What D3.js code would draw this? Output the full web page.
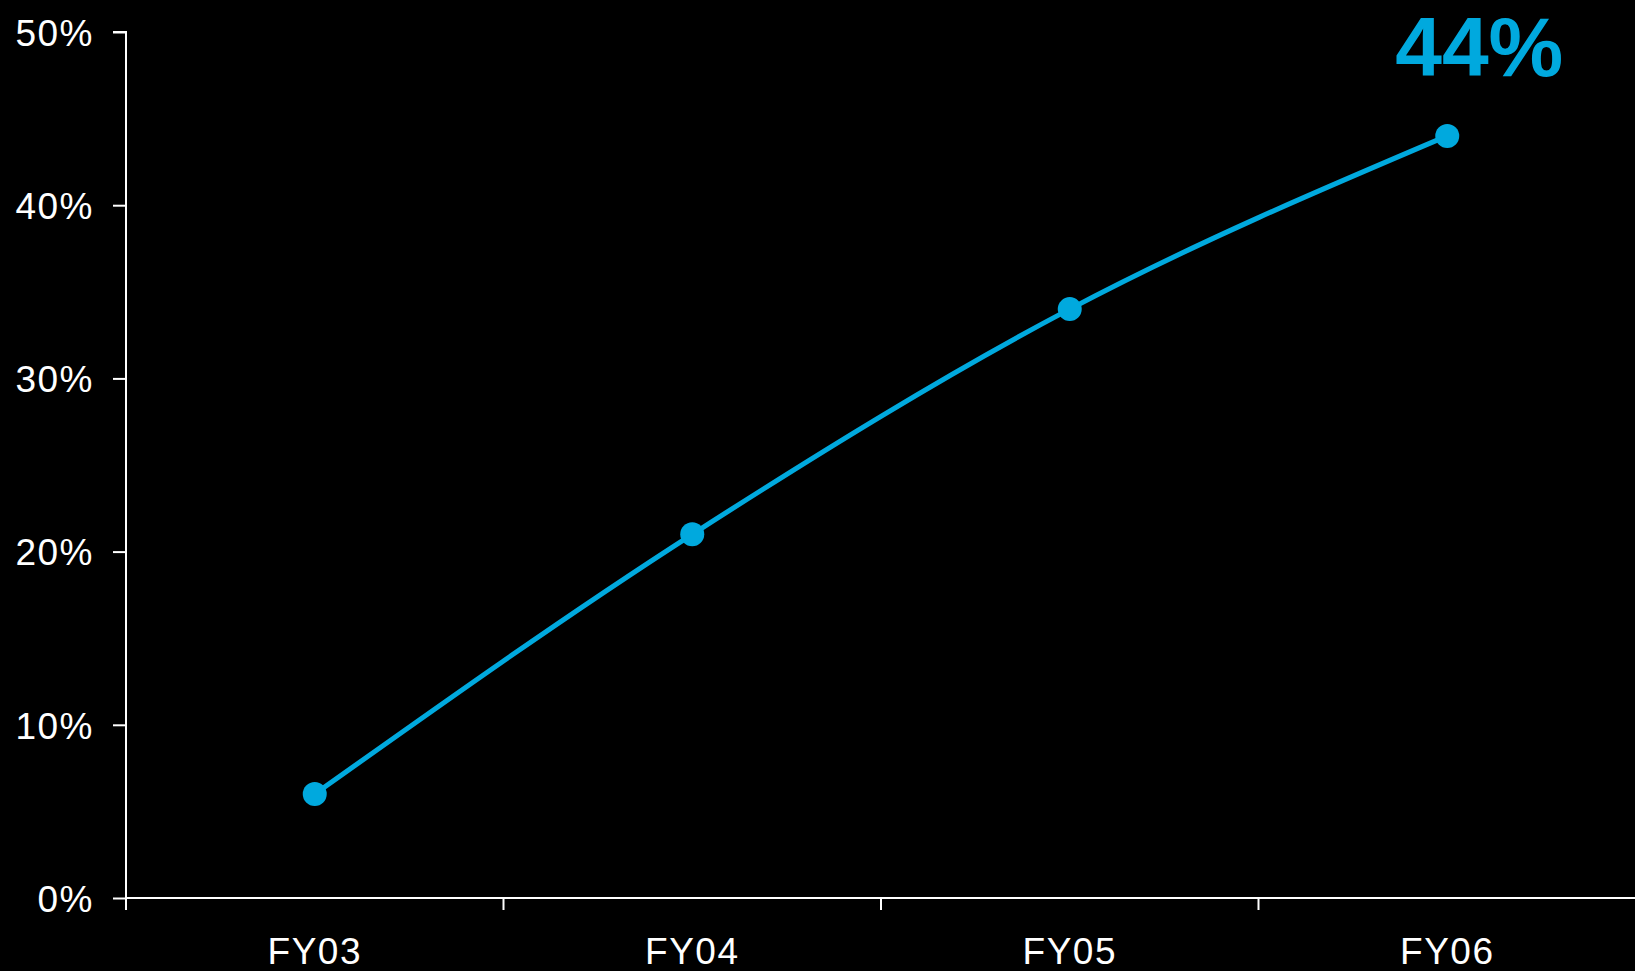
<!DOCTYPE html>
<html><head><meta charset="utf-8">
<script src="https://cdn.jsdelivr.net/npm/d3@7"></script>
<style>html,body{margin:0;padding:0;background:#000;}svg{display:block;}</style>
</head><body>
<script>
const categories = ["FY03", "FY04", "FY05", "FY06"];
const values = [6, 21, 34, 44];
const yTicks = [0, 10, 20, 30, 40, 50];
const calloutLabel = "44%";

const W = 1635, H = 971;
const mLeft = 126, mRight = 1636, mTop = 32, mBottom = 898;
const color = "#00A9DE";

const svg = d3.select("body").append("svg").attr("width", W).attr("height", H)
  .style("background", "#000").style("font-family", "'Liberation Sans', Arial, sans-serif");

const x = d3.scaleBand().domain(categories).range([mLeft, mRight]);
const y = d3.scaleLinear().domain([0, 50]).range([mBottom, mTop]);

// y axis
const ya = svg.append("g").attr("transform", `translate(${mLeft},0)`)
  .call(d3.axisLeft(y).tickValues(yTicks).tickFormat(d => d + "%").tickSize(13).tickPadding(19));
ya.select(".domain").attr("stroke", "#fff").attr("stroke-width", 2).attr("d", `M-13,${mTop}H0V${mBottom}`);
ya.selectAll(".tick line").attr("stroke", "#fff").attr("stroke-width", 2);
ya.selectAll(".tick text").attr("fill", "#fff").attr("font-size", 37).attr("dy", "0.36em")
  .attr("letter-spacing", 1.5)
  .style("font-family", "'Liberation Sans', Arial, sans-serif");

// x axis
const xa = svg.append("g").attr("transform", `translate(0,${mBottom})`)
  .call(d3.axisBottom(x).tickSize(0).tickPadding(0));
xa.select(".domain").attr("stroke", "#fff").attr("stroke-width", 2).attr("d", `M${mLeft},0H${mRight}`);
xa.selectAll(".tick text").attr("fill", "#fff").attr("font-size", 37).attr("y", 66).attr("dy", 0)
  .attr("letter-spacing", 1.5)
  .style("font-family", "'Liberation Sans', Arial, sans-serif");
// band boundary ticks
xa.selectAll(".bt").data(categories).enter().append("line").attr("class", "bt")
  .attr("x1", d => x(d)).attr("x2", d => x(d)).attr("y1", 0).attr("y2", 12)
  .attr("stroke", "#fff").attr("stroke-width", 2);

const pts = categories.map((c, i) => [x(c) + x.bandwidth() / 2, y(values[i])]);
svg.append("path").attr("d", d3.line().curve(d3.curveMonotoneX)(pts))
  .attr("fill", "none").attr("stroke", color).attr("stroke-width", 5);
svg.selectAll(".dot").data(pts).enter().append("circle").attr("class", "dot")
  .attr("cx", d => d[0]).attr("cy", d => d[1]).attr("r", 12).attr("fill", color);

svg.append("text").attr("x", pts[3][0] + 32).attr("y", 76).attr("text-anchor", "middle")
  .attr("fill", color).attr("font-size", 84).attr("font-weight", "bold").text(calloutLabel);
</script>
</body></html>
